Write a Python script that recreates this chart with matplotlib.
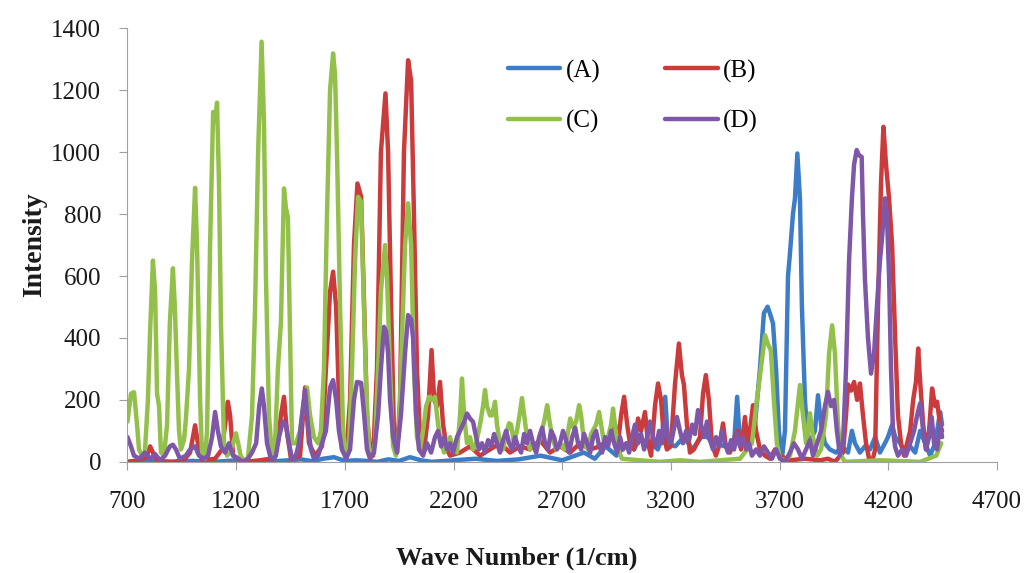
import matplotlib
matplotlib.use("Agg")
import matplotlib.pyplot as plt

plt.rcParams['font.family'] = ['Liberation Serif', 'DejaVu Serif']

# (A) blue
a_x = [700, 800, 900, 1000, 1100, 1200, 1300, 1400, 1500, 1550, 1600, 1650, 1700, 1750,
       1800, 1850, 1900, 1950, 2000, 2050, 2100, 2200, 2300, 2400, 2500, 2600, 2700, 2800,
       2850, 2900, 2950, 3000, 3030, 3060, 3080, 3110, 3140, 3160, 3174, 3187, 3220, 3260,
       3300, 3350, 3400, 3450, 3491, 3505, 3518, 3541, 3564, 3587, 3610, 3628, 3645, 3656,
       3670, 3684, 3697, 3711, 3725, 3739, 3748, 3762, 3771, 3782, 3794, 3803, 3817, 3831,
       3849, 3863, 3877, 3891, 3909, 3932, 3960, 3987, 4015, 4033, 4047, 4070, 4093, 4116,
       4140, 4162, 4185, 4199, 4218, 4232, 4255, 4278, 4301, 4324, 4347, 4370, 4393, 4416,
       4439, 4448]
a_y = [0, 5, 0, 3, 0, 5, 0, 3, 8, 2, 10, 15, 3, 5,
       3, 0, 8, 3, 15, 5, 0, 5, 10, 3, 8, 20, 5, 30,
       10, 50, 20, 60, 40, 80, 50, 60, 40, 80, 210, 60, 50, 80,
       40, 90, 60, 50, 60, 210, 60, 60, 100, 120, 300, 480, 501, 479,
       447, 300, 100, 10, 100, 600, 673, 802, 850, 996, 850, 500, 200, 60,
       80, 100, 215, 120, 60, 40, 30, 50, 30, 100, 60, 30, 50, 40,
       80, 30, 60, 80, 120, 80, 60, 30, 50, 30, 100, 60, 20, 60,
       161, 120]

# (B) red
b_x = [700, 755, 787, 804, 817, 840, 918, 965, 988, 1011, 1024, 1043, 1103, 1135, 1154,
       1162, 1172, 1186, 1241, 1310, 1356, 1392, 1406, 1420, 1433, 1452, 1494, 1517, 1535,
       1563, 1595, 1613, 1632, 1646, 1660, 1673, 1687, 1706, 1724, 1742, 1758, 1775, 1789,
       1802, 1816, 1830, 1848, 1866, 1887, 1899, 1913, 1926, 1940, 1954, 1972, 1991, 2005,
       2018, 2032, 2046, 2065, 2083, 2099, 2111, 2124, 2138, 2152, 2170, 2184, 2230, 2276,
       2322, 2368, 2414, 2460, 2506, 2552, 2598, 2644, 2690, 2737, 2782, 2828, 2874, 2920,
       2943, 2957, 2971, 2985, 2999, 3012, 3031, 3049, 3063, 3081, 3095, 3109, 3127, 3141,
       3155, 3168, 3182, 3200, 3219, 3237, 3251, 3260, 3274, 3288, 3306, 3320, 3334, 3348,
       3361, 3375, 3389, 3407, 3426, 3440, 3453, 3472, 3495, 3509, 3523, 3541, 3555, 3564,
       3578, 3592, 3610, 3633, 3656, 3679, 3702, 3748, 3817, 3886, 3923, 3955, 3992, 4006,
       4015, 4029, 4043, 4057, 4070, 4084, 4098, 4112, 4126, 4140, 4153, 4167, 4178, 4190,
       4204, 4218, 4232, 4245, 4259, 4273, 4287, 4301, 4315, 4328, 4338, 4347, 4361, 4374,
       4388, 4402, 4416, 4425, 4439, 4448]
b_y = [0, 5, 15, 50, 30, 0, 0, 10, 30, 118, 60, 5, 10, 40, 150,
       194, 150, 20, 0, 5, 10, 60, 150, 210, 100, 10, 20, 240, 60,
       20, 50, 300, 550, 614, 500, 200, 40, 20, 200, 700, 899, 856, 500,
       150, 30, 20, 300, 1000, 1190, 1000, 500, 100, 30, 200, 1000, 1297, 1230,
       800, 300, 80, 40, 150, 361, 200, 180, 258, 120, 40, 20, 30, 50,
       20, 40, 60, 30, 50, 40, 70, 30, 50, 30, 60, 40, 50, 80,
       120, 60, 150, 210, 120, 60, 40, 140, 100, 161, 60, 20, 180, 253,
       200, 80, 40, 50, 250, 382, 280, 250, 120, 30, 40, 60, 80, 220,
       280, 200, 60, 20, 60, 124, 50, 30, 80, 100, 40, 145, 40, 100,
       183, 100, 40, 20, 10, 40, 20, 5, 10, 5, 10, 0, 30, 150,
       250, 230, 258, 200, 253, 150, 60, 10, 0, 40, 500, 900, 1082, 960,
       850, 700, 400, 150, 60, 20, 60, 100, 200, 260, 366, 260, 120, 40,
       100, 237, 180, 194, 120, 100]

# (C) green
c_x = [700, 716, 730, 744, 753, 767, 780, 794, 804, 817, 827, 836, 845, 854, 868, 882, 895,
       909, 918, 927, 937, 946, 960, 969, 983, 997, 1011, 1020, 1034, 1043, 1057, 1066, 1080,
       1094, 1103, 1112, 1121, 1130, 1144, 1158, 1172, 1186, 1199, 1209, 1222, 1241, 1254,
       1273, 1287, 1301, 1317, 1328, 1337, 1351, 1365, 1379, 1392, 1406, 1420, 1429, 1438,
       1448, 1457, 1475, 1494, 1512, 1526, 1540, 1558, 1577, 1590, 1604, 1618, 1632, 1646,
       1655, 1664, 1678, 1692, 1706, 1719, 1733, 1747, 1761, 1775, 1784, 1798, 1811, 1825,
       1839, 1853, 1866, 1885, 1894, 1908, 1922, 1935, 1949, 1963, 1977, 1991, 2005, 2018,
       2032, 2046, 2060, 2074, 2088, 2101, 2115, 2129, 2143, 2157, 2170, 2184, 2198, 2216,
       2230, 2239, 2249, 2262, 2276, 2290, 2304, 2322, 2336, 2345, 2354, 2368, 2377, 2391,
       2400, 2414, 2428, 2442, 2456, 2465, 2478, 2492, 2506, 2515, 2525, 2538, 2552, 2566,
       2580, 2598, 2617, 2631, 2640, 2654, 2672, 2690, 2709, 2723, 2737, 2751, 2764, 2778,
       2787, 2801, 2819, 2833, 2856, 2870, 2879, 2893, 2911, 2925, 2934, 2943, 2957, 2975,
       3058, 3150, 3242, 3334, 3426, 3518, 3573, 3596, 3614, 3633, 3647, 3660, 3674, 3688,
       3702, 3725, 3748, 3771, 3794, 3808, 3822, 3840, 3854, 3873, 3891, 3914, 3928, 3942,
       3955, 3969, 3983, 4001, 4163, 4347, 4421, 4444]
c_y = [130, 220, 225, 120, 40, 20, 30, 200, 420, 650, 550, 220, 180, 30, 20, 120, 450,
       625, 500, 300, 100, 40, 70, 140, 300, 650, 885, 700, 200, 20, 10, 100, 700,
       1130, 1100, 1160, 900, 450, 60, 20, 30, 60, 92, 60, 15, 5, 10,
       150, 500, 1000, 1357, 1100, 600, 150, 20, 60, 300, 450, 883, 820, 790,
       400, 60, 60, 100, 200, 240, 150, 80, 60, 100, 300, 800, 1200, 1319,
       1250, 1000, 500, 100, 20, 50, 300, 650, 856, 840, 600, 250, 40, 20,
       60, 300, 550, 700, 600, 300, 50, 20, 100, 400, 700, 835, 700, 300,
       80, 40, 100, 180, 210, 200, 210, 120, 60, 30, 50, 80, 40, 30,
       150, 269, 150, 60, 80, 40, 60, 120, 180, 232, 180, 150, 150, 194,
       120, 60, 40, 90, 125, 120, 60, 100, 160, 206, 150, 80, 40, 60,
       30, 80, 130, 183, 140, 80, 40, 60, 40, 80, 140, 110, 130, 183,
       150, 60, 40, 90, 120, 161, 120, 60, 80, 120, 172, 120, 40, 10,
       5, 0, 5, 0, 5, 10, 60, 200, 300, 409, 380, 360, 200, 60,
       10, 5, 20, 100, 248, 150, 60, 157, 80, 20, 40, 150, 350, 441,
       350, 120, 20, 0, 5, 0, 20, 60]

# (D) purple
d_x = [700, 716, 730, 755, 780, 804, 827, 850, 873, 895, 909, 923, 941, 969, 988, 1011,
       1029, 1052, 1071, 1089, 1103, 1116, 1130, 1149, 1167, 1186, 1209, 1232, 1254, 1273,
       1292, 1306, 1318, 1328, 1342, 1356, 1369, 1383, 1397, 1415, 1429, 1443, 1457, 1475,
       1489, 1503, 1517, 1530, 1544, 1558, 1577, 1595, 1613, 1632, 1646, 1660, 1673, 1687,
       1706, 1724, 1742, 1756, 1775, 1789, 1802, 1816, 1834, 1853, 1866, 1880, 1890, 1899,
       1908, 1922, 1940, 1958, 1977, 1991, 2005, 2014, 2028, 2041, 2060, 2078, 2097, 2115,
       2129, 2143, 2157, 2170, 2184, 2198, 2216, 2230, 2249, 2262, 2276, 2290, 2304, 2317,
       2331, 2345, 2359, 2373, 2387, 2400, 2414, 2428, 2442, 2456, 2470, 2483, 2497, 2511,
       2525, 2538, 2552, 2566, 2580, 2594, 2608, 2621, 2635, 2649, 2663, 2676, 2690, 2704,
       2718, 2732, 2746, 2760, 2773, 2787, 2801, 2815, 2829, 2842, 2856, 2870, 2884, 2898,
       2911, 2925, 2939, 2953, 2966, 2980, 2994, 3008, 3021, 3035, 3049, 3063, 3077, 3091,
       3104, 3118, 3132, 3146, 3159, 3173, 3187, 3201, 3215, 3228, 3242, 3256, 3270, 3284,
       3298, 3311, 3325, 3339, 3353, 3366, 3380, 3394, 3408, 3422, 3435, 3449, 3463, 3477,
       3491, 3505, 3518, 3532, 3546, 3560, 3573, 3592, 3610, 3628, 3647, 3665, 3684, 3702,
       3725, 3748, 3766, 3785, 3803, 3822, 3840, 3854, 3873, 3891, 3909, 3923, 3937, 3951,
       3964, 3978, 3992, 4006, 4020, 4033, 4043, 4055, 4066, 4078, 4084, 4093, 4107, 4121,
       4135, 4148, 4162, 4171, 4185, 4194, 4204, 4213, 4222, 4232, 4245, 4264, 4282, 4301,
       4319, 4333, 4347, 4361, 4374, 4388, 4400, 4411, 4425, 4439, 4448]
d_y = [80, 50, 20, 10, 30, 10, 25, 5, 20, 50, 55, 40, 10, 20, 40, 50,
       20, 10, 20, 80, 161, 100, 50, 30, 60, 20, 10, 0, 10, 30,
       60, 180, 237, 180, 60, 20, 5, 20, 80, 130, 120, 60, 10, 20,
       60, 150, 232, 120, 40, 10, 20, 60, 100, 240, 264, 200, 100, 40,
       10, 40, 200, 258, 255, 150, 40, 10, 30, 150, 300, 436, 420, 350,
       200, 80, 30, 150, 350, 474, 460, 400, 150, 40, 20, 60, 30, 80,
       100, 50, 80, 40, 60, 30, 80, 100, 130, 156, 140, 129, 80, 40,
       60, 30, 70, 50, 90, 60, 30, 70, 100, 60, 40, 80, 50, 30,
       90, 60, 100, 60, 30, 80, 110, 60, 40, 100, 80, 40, 60, 100,
       70, 30, 80, 110, 60, 40, 90, 60, 30, 80, 100, 50, 30, 80,
       50, 100, 60, 30, 80, 40, 60, 30, 80, 120, 60, 90, 40, 80,
       130, 80, 50, 100, 60, 130, 80, 60, 110, 145, 100, 60, 100, 70,
       120, 90, 167, 120, 80, 130, 70, 40, 80, 50, 100, 60, 30, 70,
       40, 90, 50, 80, 40, 60, 20, 40, 20, 50, 30, 10, 40, 10,
       0, 30, 60, 40, 10, 40, 70, 20, 60, 100, 180, 226, 180, 200,
       100, 20, 60, 300, 650, 850, 960, 1007, 990, 985, 800, 590, 400, 285,
       350, 500, 650, 716, 851, 800, 600, 300, 100, 48, 20, 40, 20, 60,
       100, 150, 189, 100, 40, 80, 145, 60, 40, 120, 80]

series = [('(A)', a_x, a_y, '#3d7dc8'),
          ('(B)', b_x, b_y, '#cc3b3b'),
          ('(C)', c_x, c_y, '#93c04a'),
          ('(D)', d_x, d_y, '#7e57a8')]

fig = plt.figure(figsize=(10.24, 5.73), dpi=100)
ax = fig.add_axes([0.1245, 0.194, 0.849, 0.7565])

lines = {}
for label, xs, ys, col in series:
    lines[label], = ax.plot(xs, ys, color=col, lw=3.2, label=label,
                            solid_joinstyle='round', solid_capstyle='round')

ax.set_xlim(700, 4700)
ax.set_ylim(0, 1400)
ax.set_xticks(range(700, 4701, 500))
ax.set_yticks(range(0, 1401, 200))
for s in ['top', 'right']:
    ax.spines[s].set_visible(False)
for s in ['left', 'bottom']:
    ax.spines[s].set_color('#a0a0a0')
ax.tick_params(colors='#a0a0a0', labelcolor='#1a1a1a', labelsize=18, length=6)
ax.tick_params(axis='x', pad=15)
ax.tick_params(axis='y', pad=13)

fig.text(517 / 1024, 1 - 558 / 573, 'Wave Number (1/cm)', fontsize=19,
         fontweight='bold', ha='center', va='center', color='#1a1a1a')
fig.text(35 / 1024, 1 - 245 / 573, 'Intensity', fontsize=20, rotation=90,
         fontweight='bold', ha='center', va='center', color='#1a1a1a')

# row-wise legend: (A) (B) / (C) (D)
order = ['(A)', '(C)', '(B)', '(D)']
ax.legend([lines[k] for k in order], order, ncol=2, loc='upper left',
          bbox_to_anchor=(0.4376, 0.928), frameon=False,
          fontsize=18, handlelength=2.1, handletextpad=0.2, columnspacing=2.6,
          labelspacing=1.1, borderpad=0, borderaxespad=0)

plt.savefig("out.png", dpi=100)
